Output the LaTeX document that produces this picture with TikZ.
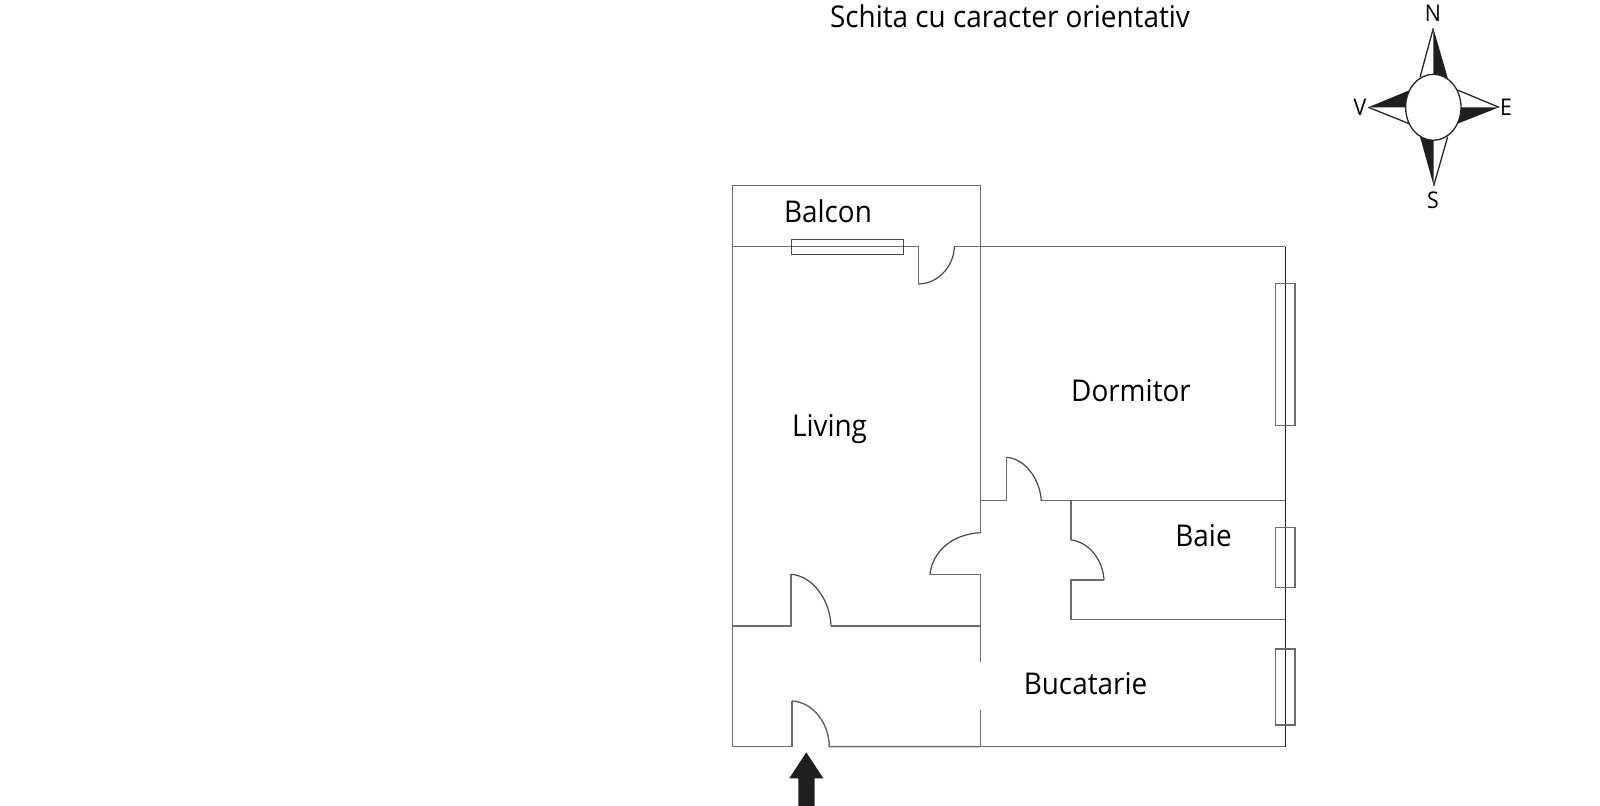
\documentclass[tikz,border=0pt]{standalone}
\usepackage{fontspec}
\setmainfont[FakeStretch=0.93]{Open Sans}
\tikzset{
  wall/.style={draw=black!58,line width=0.75pt,line join=miter},
  thin wall/.style={draw=black!72,line width=0.6pt},
  label/.style={inner sep=0pt,font=\fontsize{15}{18}\selectfont,text=black},
  dir/.style={inner sep=0pt,font=\fontsize{11.5}{13}\selectfont,text=black},
  ink/.style={fill=black!88,draw=none},
  rim/.style={draw=black!85,line width=0.65pt}
}
\begin{document}
\begin{tikzpicture}[x=0.5pt,y=-0.5pt]
\useasboundingbox (0,0) rectangle (1600,806);
% outer walls
\draw[wall] (732.7,246.7) -- (732.7,185.7) -- (980.3,185.7) -- (980.3,246.7);
\draw[wall] (732.7,246.7) -- (732.7,746.7) -- (792,746.7) -- (792,701);
\draw[wall] (792,701) .. controls (812,702) and (829,722) .. (829.3,746.7) -- (980.3,746.7);
\draw[wall] (732.7,246.7) -- (918.3,246.7) -- (918.3,284);
\draw[thin wall] (918.3,284) .. controls (938,284) and (954,266) .. (954.3,246.7);
\draw[wall] (954.3,246.7) -- (1285.3,246.7);
\draw[wall] (980.3,246.7) -- (980.3,532.7);
\draw[thin wall] (980.3,532.7) .. controls (952,534) and (932,552) .. (930,574.7);
\draw[wall] (930,574.7) -- (980.3,574.7) -- (980.3,661.7);
\draw[wall] (980.3,710) -- (980.3,746.7) -- (1285.3,746.7);
\draw[wall] (980.3,500.7) -- (1006.7,500.7) -- (1006.7,457.3);
\draw[thin wall] (1006.7,457.3) .. controls (1026,459) and (1040,480) .. (1041.3,500.7);
\draw[wall] (1041.3,500.7) -- (1285.3,500.7);
\draw[wall] (1071,500.7) -- (1071,540);
\draw[thin wall] (1071,540) .. controls (1089,542) and (1103,560) .. (1104,580);
\draw[wall] (1104,580) -- (1071,580) -- (1071,619.3) -- (1285.3,619.3);
\draw[wall] (732.7,626) -- (791,626) -- (791,574.3);
\draw[thin wall] (791,574.3) .. controls (813,576) and (830,600) .. (831,626);
\draw[wall] (831,626) -- (980.3,626);
\draw[thin wall,draw=black!90] (1285.3,246.7) -- (1285.3,746.7);
% windows
\draw[thin wall] (791.7,239.3) rectangle (903.3,254.3);
\draw[wall] (1275.7,283.7) rectangle (1295,425.5);
\draw[wall] (1275.7,527.7) rectangle (1295,587.3);
\draw[wall] (1275.7,649) rectangle (1295,725);
% entrance arrow
\fill[ink] (806.3,752.3) -- (823.3,778.3) -- (814.7,778.3) -- (814.7,806) -- (798.3,806) -- (798.3,778.3) -- (789.3,778.3) -- cycle;
% compass
\draw[rim] (1433.3,28.3) -- (1420,77.3);
\draw[rim] (1368.3,107.3) -- (1410,124);
\draw[rim] (1499,107.3) -- (1457.3,90);
\draw[rim] (1433.7,185.7) -- (1447.7,136.7);
\fill[ink] (1433.3,28.3) -- (1448.3,80) -- (1433.3,75) -- cycle;
\fill[ink] (1368.3,107.3) -- (1410,90) -- (1406,107.3) -- cycle;
\fill[ink] (1499,107.3) -- (1456.7,124) -- (1461,107.3) -- cycle;
\fill[ink] (1433.7,185.7) -- (1420,136.7) -- (1433.7,140) -- cycle;
\draw[rim,fill=white] (1433.3,107.3) ellipse [x radius=27.7,y radius=33];
\node[dir] (n) at (1433,13.5) {N};
\node[dir] (v) at (1360,107.5) {V};
\node[dir] (e) at (1506,107.5) {E};
\node[dir] (s) at (1433,200) {S};
% labels
\node[label] (title) at (1010,16) {Schita cu caracter orientativ};
\node[label] (balcon) at (828,211.5) {Balcon};
\node[label] (living) at (829.5,429) {Living};
\node[label] (dormitor) at (1131,391) {Dormitor};
\node[label] (baie) at (1203.5,536) {Baie};
\node[label] (bucatarie) at (1085.5,684) {Bucatarie};
\end{tikzpicture}
\end{document}
